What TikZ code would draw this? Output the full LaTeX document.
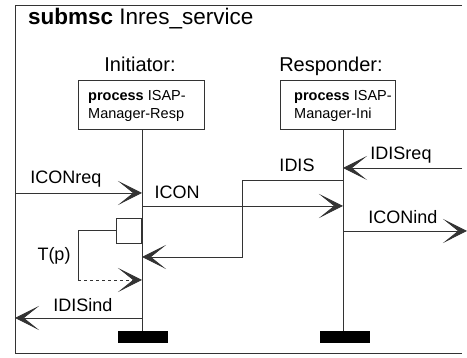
\documentclass[tikz,border=0pt]{standalone}
\usepackage{fontspec}
\setmainfont{Liberation Sans}
\usetikzlibrary{arrows.meta}
\begin{document}
\begin{tikzpicture}[x=1pt,y=-1pt,
  line/.style={draw=black!80,line width=0.8pt},
  msg/.style={line,-{Stealth[length=24pt,width=24pt,inset=15pt]}},
  lbl/.style={inner sep=0pt,font=\fontsize{18}{20}\selectfont},
  inst/.style={inner sep=0pt,font=\fontsize{20}{24}\selectfont},
  procbox/.style={draw=black!80,line width=0.8pt,minimum height=49pt,inner sep=0pt},
  proctext/.style={inner sep=0pt,align=left,font=\fontsize{14.5}{18}\selectfont},
  stopbar/.style={fill=black,minimum width=50pt,minimum height=12pt,inner sep=0pt}]
  \useasboundingbox (0,0) rectangle (467,358);
  \draw[line] (462,5) -- (15,5) -- (15,353) -- (462,353);
  \node[anchor=base west,inner sep=0pt,font=\fontsize{22.5}{26}\selectfont] (title) at (28,25) {\textbf{submsc} Inres\_service};
  \node[inst,anchor=base] (initname) at (140,72) {Initiator:};
  \node[inst,anchor=base] (respname) at (331,72) {Responder:};
  \node[procbox,minimum width=126pt] (initbox) at (141,104.5) {};
  \node[proctext,anchor=west] (inittext) at (88,106) {\textbf{process} ISAP-\\Manager-Resp};
  \node[procbox,minimum width=115pt] (respbox) at (337.5,104.5) {};
  \node[proctext,anchor=west] (resptext) at (294,106) {\textbf{process} ISAP-\\Manager-Ini};
  \coordinate (initend) at (142,337);
  \coordinate (respend) at (343,337);
  \draw[line] (initbox.south -| initend) -- (initend);
  \draw[line] (respbox.south -| respend) -- (respend);
  \node[stopbar] (initstop) at (143,337) {};
  \node[stopbar] (respstop) at (344.5,337) {};
  \coordinate (reqfrom) at (15,193);
  \draw[msg] (reqfrom) -- (reqfrom -| initend);
  \node[lbl] (iconreq) at (66,179) {ICONreq};
  \coordinate (iconfrom) at (142,206);
  \draw[msg] (iconfrom) -- (iconfrom -| respend);
  \node[lbl] (icon) at (177,192) {ICON};
  \coordinate (disreqfrom) at (462,168);
  \draw[msg] (disreqfrom) -- (disreqfrom -| respend);
  \node[lbl] (idisreq) at (401,155) {IDISreq};
  \coordinate (disfrom) at (343,180);
  \coordinate (disbend) at (242,257);
  \draw[msg] (disfrom) -- (disfrom -| disbend) -- (disbend) -- (disbend -| initend);
  \node[lbl] (idis) at (297,165) {IDIS};
  \coordinate (indfrom) at (343,231);
  \coordinate (indto) at (467,231);
  \draw[msg] (indfrom) -- (indto);
  \node[lbl] (iconind) at (403,217) {ICONind};
  \node[line,draw,minimum size=25pt,inner sep=0pt] (timer) at (128.5,230.5) {};
  \coordinate (timerbend) at (78,280);
  \draw[line] (timer.west) -- (timer.west -| timerbend) -- (timerbend);
  \draw[msg,dash pattern=on 3pt off 3pt] (timerbend) -- (timerbend -| initend);
  \node[lbl] (tp) at (54,256) {T(p)};
  \coordinate (disindfrom) at (142,318);
  \draw[msg] (disindfrom) -- (15,318);
  \node[lbl] (idisind) at (83,305) {IDISind};
\end{tikzpicture}
\end{document}
